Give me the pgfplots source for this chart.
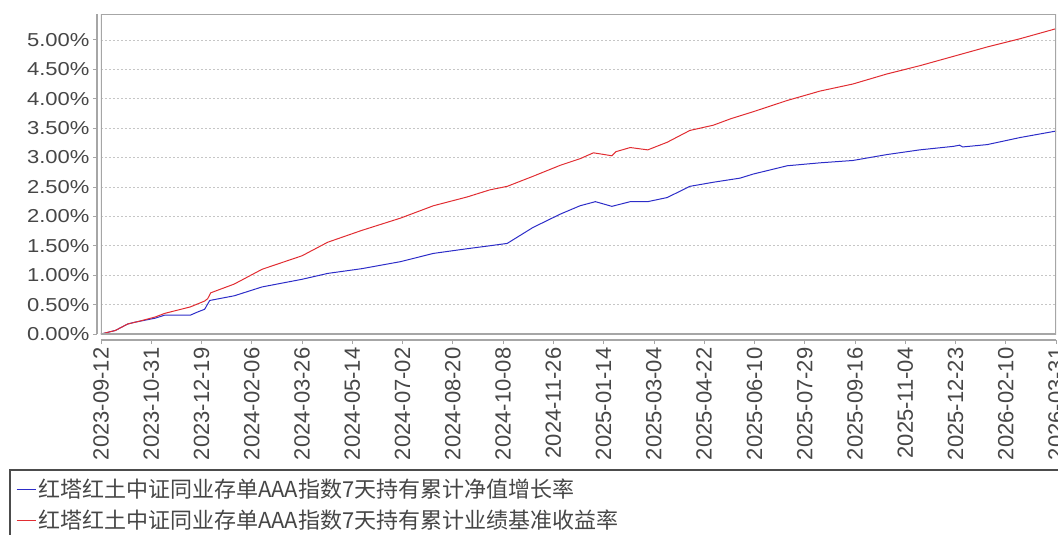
\documentclass[border=0pt]{standalone}
\usepackage{pgfplots}
\pgfplotsset{compat=1.18}
\usepackage{fontspec}
\setmainfont{Liberation Sans}
\newfontfamily\cjk{Noto Sans CJK SC}
\definecolor{navc}{RGB}{45,45,200}
\definecolor{bmkc}{RGB}{225,45,50}
\definecolor{txtc}{RGB}{70,70,70}

\begin{document}
\begin{tikzpicture}
\begin{axis}[
name=ax,
width=955bp, height=320bp, scale only axis,
xmin=0, xmax=931, ymin=0, ymax=5.44,
axis x line*=bottom, axis y line*=left,
axis x line shift=6bp, axis y line shift=4bp,
axis line style={gray!70, line width=1.2bp},
tick align=outside, major tick length=4bp,
tick style={gray!70, line width=0.8bp},
/pgf/number format/assume math mode=true,
ytick={0,0.5,...,5},
yticklabel={\pgfmathprintnumber[fixed,fixed zerofill,precision=2]{\tick}\%},
yticklabel style={font=\fontsize{22bp}{22bp}\selectfont, text=txtc, yscale=0.85},
xtick={0,49,...,931},
xticklabels={2023-09-12,2023-10-31,2023-12-19,2024-02-06,2024-03-26,2024-05-14,2024-07-02,2024-08-20,2024-10-08,2024-11-26,2025-01-14,2025-03-04,2025-04-22,2025-06-10,2025-07-29,2025-09-16,2025-11-04,2025-12-23,2026-02-10,2026-03-31},
xticklabel style={rotate=90, anchor=east, font=\fontsize{22bp}{22bp}\selectfont, text=txtc},
ymajorgrids,
major grid style={gray!45, dash pattern=on 2bp off 2bp, line width=0.6bp},
legend cell align=left,
legend style={draw=none, fill=none, at={(axis description cs:0,0)}, anchor=north west,
  xshift=-88bp, yshift=-141bp, row sep=7bp,
  font=\cjk\fontsize{22bp}{22bp}\selectfont, text=txtc},
legend image code/.code={\draw[#1, line width=1bp] (0bp,0bp) -- (19bp,0bp);},
]
\addplot[navc, line width=1bp] coordinates {
(0,0) (14,0.06) (26,0.17) (33,0.20) (53,0.27) (62,0.32) (87,0.32) (95,0.38)
(101,0.42) (106,0.57) (130,0.65) (157,0.80) (196,0.93) (221,1.03) (254,1.11)
(292,1.23) (324,1.37) (357,1.45) (379,1.50) (396,1.54) (421,1.81) (448,2.04)
(467,2.18) (482,2.25) (498,2.17) (516,2.25) (533,2.25) (552,2.32) (574,2.51)
(597,2.58) (623,2.65) (636,2.72) (669,2.86) (701,2.91) (733,2.95) (766,3.05)
(798,3.13) (831,3.19) (837,3.21) (840,3.18) (864,3.22) (896,3.34) (931,3.45)
};
\addlegendentry{红塔红土中证同业存单AAA指数7天持有累计净值增长率}
\addplot[bmkc, line width=1bp] coordinates {
(0,0) (14,0.06) (26,0.17) (38,0.22) (53,0.29) (62,0.35) (87,0.46) (101,0.56)
(104,0.60) (107,0.70) (130,0.85) (157,1.10) (196,1.33) (221,1.56) (254,1.76)
(292,1.97) (324,2.18) (357,2.33) (379,2.45) (396,2.51) (421,2.68) (448,2.87)
(467,2.98) (480,3.08) (491,3.05) (498,3.03) (502,3.10) (516,3.17) (533,3.13)
(552,3.26) (574,3.46) (597,3.55) (614,3.66) (636,3.78) (669,3.97) (701,4.13)
(733,4.25) (766,4.42) (798,4.56) (831,4.72) (864,4.88) (896,5.02) (931,5.19)
};
\addlegendentry{红塔红土中证同业存单AAA指数7天持有累计业绩基准收益率}
\draw[gray!70, line width=1.2bp] (rel axis cs:0,0) rectangle (rel axis cs:1,1);
\coordinate (o) at (rel axis cs:0,0);
\end{axis}
\draw[black!70, line width=1.5bp] ([shift={(1100bp,-136bp)}]o) -- ([shift={(-91bp,-136bp)}]o) -- ([shift={(-91bp,-260bp)}]o);
\pgfresetboundingbox
\path ([shift={(-101bp,-201bp)}]o) rectangle ([shift={(957bp,334bp)}]o);
\end{tikzpicture}
\end{document}
